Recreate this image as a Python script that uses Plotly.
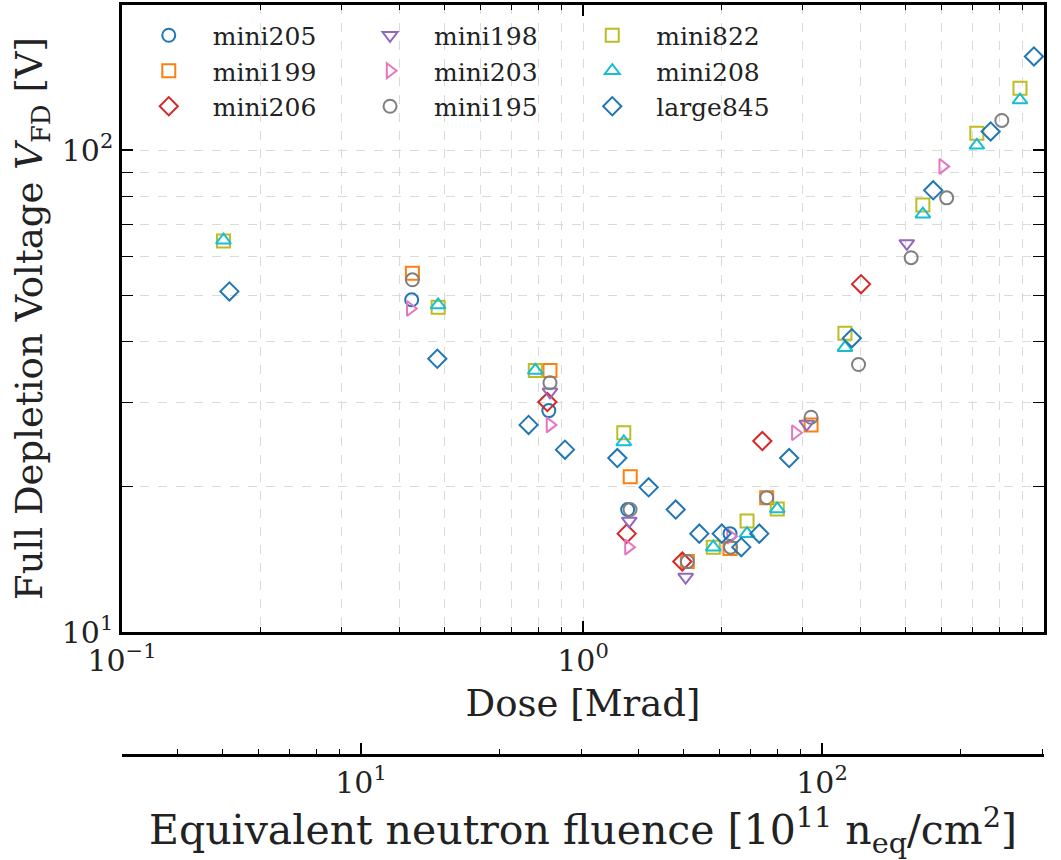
import numpy as np
import plotly.graph_objects as go

# ---------------- data ----------------
names = ["mini205", "mini199", "mini206", "mini198", "mini203",
         "mini195", "mini822", "mini208", "large845"]

mini205_dose = [0.425, 0.843, 1.25, 2.084]
mini205_vfd = [48.9, 28.8, 17.95, 16.0]

mini199_dose = [0.4265, 0.848, 1.266, 1.684, 2.084, 2.503, 3.124]
mini199_vfd = [55.5, 34.9, 21.0, 14.0, 14.9, 19.0, 26.9]

mini206_dose = [0.837, 1.244, 1.642, 2.449, 4.01]
mini206_vfd = [30.0, 16.0, 14.0, 24.9, 52.7]

mini198_dose = [0.848, 1.26, 1.67, 3.058, 5.04]
mini198_vfd = [31.5, 17.0, 13.0, 27.0, 64.0]

mini203_dose = [0.422, 0.848, 1.255, 2.09, 2.888, 6.03]
mini203_vfd = [46.9, 26.9, 15.0, 15.8, 25.9, 92.5]

mini195_dose = [0.4265, 0.848, 1.265, 1.684, 2.09, 2.503, 3.124, 3.96, 5.15, 6.15, 8.10]
mini195_vfd = [53.8, 32.9, 17.95, 14.0, 15.0, 19.0, 27.9, 35.9, 59.8, 79.6, 115.2]

mini822_dose = [0.166, 0.485, 0.788, 1.226, 1.917, 2.269, 2.639, 3.70, 5.46, 7.15, 8.87]
mini822_vfd = [64.8, 47.2, 34.9, 25.9, 15.0, 17.0, 18.0, 41.7, 76.9, 108.4, 134.3]

mini208_dose = [0.166, 0.485, 0.788, 1.226, 1.917, 2.269, 2.639, 3.70, 5.46, 7.15, 8.87]
mini208_vfd = [65.0, 47.7, 34.9, 24.8, 15.0, 16.0, 18.0, 38.9, 73.6, 102.3, 127.0]

large845_dose = [0.171, 0.483, 0.762, 0.914, 1.187, 1.388, 1.589, 1.788, 2.0, 2.205,
                 2.412, 2.80, 3.83, 5.75, 7.66, 9.51]
large845_vfd = [50.9, 36.9, 26.9, 23.9, 22.96, 19.96, 17.95, 16.0, 16.0, 15.0,
                16.0, 22.96, 40.7, 82.5, 109.3, 156.4]

# conversion dose [Mrad] -> equivalent neutron fluence [1e11 neq/cm2]
fluence_per_mrad = 30.3

dose_range = [0.1, 10]
vfd_range = [10, 200]

x_ticks = [0.1, 1, 10]
x_ticktext = ["10<sup>−1</sup>", "10<sup>0</sup>", "10<sup>1</sup>"]
y_ticks = [10, 100]
y_ticktext = ["10<sup>1</sup>", "10<sup>2</sup>"]
f_ticks = [10, 100]
f_ticktext = ["10<sup>1</sup>", "10<sup>2</sup>"]

series = [
    (mini205_dose, mini205_vfd),
    (mini199_dose, mini199_vfd),
    (mini206_dose, mini206_vfd),
    (mini198_dose, mini198_vfd),
    (mini203_dose, mini203_vfd),
    (mini195_dose, mini195_vfd),
    (mini822_dose, mini822_vfd),
    (mini208_dose, mini208_vfd),
    (large845_dose, large845_vfd),
]

# ---------------- styling ----------------
colors = ["#1f77b4", "#ff7f0e", "#d62728", "#9467bd", "#e377c2",
          "#7f7f7f", "#bcbd22", "#17becf", "#1f77b4"]
symbols = ["circle-open", "square-open", "diamond-open", "triangle-down-open",
           "triangle-right-open", "circle-open", "square-open",
           "triangle-up-open", "diamond-open"]
sizes = [13, 13, 14, 13, 13, 13, 13, 13, 14]
legend_ids = ["legend", "legend", "legend", "legend2", "legend2", "legend2",
              "legend3", "legend3", "legend3"]

FONT = "DejaVu Serif"
TXT = "#222222"
GRID = "#dadada"

fig = go.Figure()
for i, (name, (d, v)) in enumerate(zip(names, series)):
    fig.add_trace(go.Scatter(
        x=d, y=v, mode="markers", name=name,
        marker=dict(symbol=symbols[i], size=sizes[i], color=colors[i],
                    line=dict(width=2, color=colors[i])),
        legend=legend_ids[i],
    ))

# invisible trace that carries the secondary (fluence) axis
f_lo = dose_range[0] * fluence_per_mrad
f_hi = dose_range[1] * fluence_per_mrad
fig.add_trace(go.Scatter(x=[f_lo, f_hi], y=[None, None], xaxis="x2", yaxis="y",
                         mode="markers", showlegend=False, hoverinfo="skip"))

minor_x = [k * 10.0 ** e for e in (-1, 0) for k in range(2, 10)]
minor_y = [k * 10.0 for k in range(2, 10)] + [200]
minor_f = [k * 10.0 ** e for e in (0, 1, 2) for k in range(2, 10)]
minor_f = [m for m in minor_f if f_lo <= m <= f_hi]

ydom0 = 0.164


def legend_cfg(x):
    return dict(x=x, y=0.99, xanchor="left", yanchor="top",
                bgcolor="rgba(0,0,0,0)", borderwidth=0,
                font=dict(size=25, family=FONT, color=TXT),
                itemwidth=78, tracegroupgap=0)


fig.update_layout(
    width=1061, height=860,
    margin=dict(l=122, r=17, t=5, b=105, autoexpand=False),
    paper_bgcolor="white", plot_bgcolor="white",
    font=dict(family=FONT, color=TXT, size=26),
    xaxis=dict(
        type="log", range=[np.log10(dose_range[0]), np.log10(dose_range[1])],
        domain=[0, 1], anchor="y", automargin=False,
        tickmode="array", tickvals=x_ticks, ticktext=x_ticktext,
        ticks="inside", ticklen=11, tickwidth=1.5, tickcolor="black",
        showline=True, linewidth=2.5, linecolor="black", mirror="allticks",
        showgrid=True, gridcolor=GRID, griddash="dash", gridwidth=1,
        tickfont=dict(size=30, family=FONT, color=TXT),
        minor=dict(tickvals=minor_x, ticks="inside", ticklen=5, tickwidth=1,
                   tickcolor="black", showgrid=True, gridcolor=GRID,
                   griddash="dash", gridwidth=1),
        title=dict(text="Dose [Mrad]", font=dict(size=37, family=FONT, color=TXT),
                   standoff=14),
        zeroline=False,
    ),
    yaxis=dict(
        type="log", range=[np.log10(vfd_range[0]), np.log10(vfd_range[1])],
        domain=[ydom0, 1], anchor="x", automargin=False,
        tickmode="array", tickvals=y_ticks, ticktext=y_ticktext,
        ticks="inside", ticklen=11, tickwidth=1.5, tickcolor="black",
        showline=True, linewidth=2.5, linecolor="black", mirror="allticks",
        showgrid=True, gridcolor=GRID, griddash="dash", gridwidth=1,
        tickfont=dict(size=30, family=FONT, color=TXT),
        minor=dict(tickvals=minor_y, ticks="inside", ticklen=5, tickwidth=1,
                   tickcolor="black", showgrid=True, gridcolor=GRID,
                   griddash="dash", gridwidth=1),
        title=dict(text="Full Depletion Voltage <i>V</i><sub>FD</sub> [V]",
                   font=dict(size=37, family=FONT, color=TXT), standoff=8),
        zeroline=False,
    ),
    xaxis2=dict(
        type="log", range=[np.log10(f_lo), np.log10(f_hi)],
        overlaying="x", anchor="free", position=0, side="bottom", automargin=False,
        tickmode="array", tickvals=f_ticks, ticktext=f_ticktext,
        ticks="inside", ticklen=11, tickwidth=1.5, tickcolor="black",
        showline=True, linewidth=2.5, linecolor="black",
        showgrid=False, zeroline=False,
        tickfont=dict(size=30, family=FONT, color=TXT),
        minor=dict(tickvals=minor_f, ticks="inside", ticklen=5, tickwidth=1,
                   tickcolor="black", showgrid=False),
        title=dict(text="Equivalent neutron fluence [10<sup>11</sup> n<sub>eq</sub>/cm<sup>2</sup>]",
                   font=dict(size=41, family=FONT, color=TXT), standoff=12),
    ),
    legend=legend_cfg(0.003),
    legend2=legend_cfg(0.243),
    legend3=legend_cfg(0.484),
)

fig.write_html("out.html",
               config={"displayModeBar": False},
               post_script="document.body.style.margin='0';"
                           "document.body.style.overflow='hidden';")
